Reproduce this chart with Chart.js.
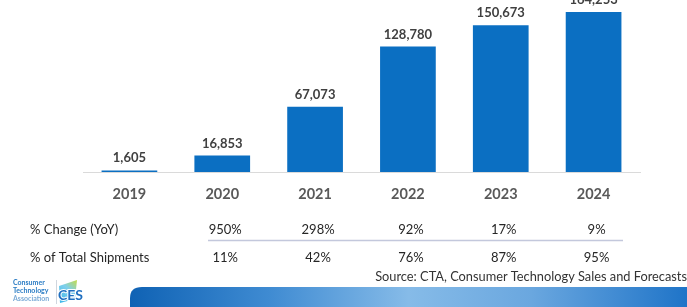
<!DOCTYPE html>
<html>
<head>
<meta charset="utf-8">
<script src="https://cdn.jsdelivr.net/npm/chart.js@4.4.1/dist/chart.umd.min.js"></script>
<style>
  html, body { margin: 0; padding: 0; background: #ffffff; }
  #wrap { width: 687px; height: 307px; position: relative; }
</style>
</head>
<body>
<div id="wrap"><canvas id="shipmentsChart" width="687" height="307"></canvas></div>
<script>
// Shipments by year (units, thousands)
const years = ["2019", "2020", "2021", "2022", "2023", "2024"];
const shipments = [1605, 16853, 67073, 128780, 150673, 164253];
// Table rows under the chart, one value per year from 2020
const yoyChange = [null, 950, 298, 92, 17, 9];
const shareOfTotal = [null, 11, 42, 76, 87, 95];

const FONT = "Lato, 'Open Sans', sans-serif";
const BAR_BLUE = "#0b6fc2";

const fmt = (v) => v.toLocaleString("en-US");

// Value labels above each bar
const barLabels = {
  id: "barLabels",
  afterDatasetsDraw(chart) {
    const { ctx } = chart;
    const meta = chart.getDatasetMeta(0);
    ctx.save();
    ctx.font = "bold 13px " + FONT;
    ctx.fillStyle = "#404040";
    ctx.textAlign = "center";
    ctx.textBaseline = "alphabetic";
    meta.data.forEach((bar, i) => {
      ctx.fillText(fmt(shipments[i]), bar.x, bar.y - 8);
    });
    ctx.restore();
  },
};

// Table rows, source line and footer band
const tableAndFooter = {
  id: "tableAndFooter",
  afterDraw(chart) {
    const { ctx } = chart;
    const x = chart.scales.x;

    ctx.save();
    ctx.font = "13px " + FONT;
    ctx.fillStyle = "#262626";
    ctx.textBaseline = "middle";

    ctx.textAlign = "left";
    ctx.fillText("% Change (YoY)", 30, 230);
    ctx.fillText("% of Total Shipments", 30, 258);

    ctx.textAlign = "center";
    years.forEach((y, i) => {
      if (yoyChange[i] == null) return;
      const px = x.getPixelForValue(i) + 3;
      ctx.fillText(yoyChange[i] + "%", px, 230);
      ctx.fillText(shareOfTotal[i] + "%", px, 258);
    });

    // divider under the YoY row
    ctx.strokeStyle = "#c3c8dc";
    ctx.lineWidth = 1.5;
    ctx.beginPath();
    ctx.moveTo(208, 240.5);
    ctx.lineTo(623, 240.5);
    ctx.stroke();

    // source
    ctx.textAlign = "right";
    ctx.fillStyle = "#333333";
    ctx.font = "12.8px " + FONT;
    ctx.fillText("Source: CTA, Consumer Technology Sales and Forecasts", 687, 277);

    // blue band
    const g = ctx.createLinearGradient(130, 0, 687, 0);
    g.addColorStop(0, "#0f62b4");
    g.addColorStop(0.25, "#3f8bd2");
    g.addColorStop(0.5, "#86bbe8");
    g.addColorStop(0.72, "#6aa7df");
    g.addColorStop(1, "#1f74c8");
    ctx.fillStyle = g;
    ctx.beginPath();
    ctx.moveTo(130, 307);
    ctx.lineTo(130, 298);
    ctx.quadraticCurveTo(130, 287, 142, 287);
    ctx.lineTo(687, 287);
    ctx.lineTo(687, 307);
    ctx.closePath();
    ctx.fill();

    // CTA logo text
    ctx.textAlign = "left";
    ctx.textBaseline = "alphabetic";
    ctx.font = "bold 7px " + FONT;
    ctx.fillStyle = "#2a7cc4";
    ctx.fillText("Consumer", 13, 285);
    ctx.fillText("Technology", 13, 293);
    ctx.fillStyle = "#7aaad6";
    ctx.fillText("Association", 13, 301);

    ctx.strokeStyle = "#d0d6de";
    ctx.lineWidth = 1;
    ctx.beginPath();
    ctx.moveTo(56.5, 280);
    ctx.lineTo(56.5, 304);
    ctx.stroke();

    // CES badge
    const bg = ctx.createLinearGradient(60, 302, 78, 280);
    bg.addColorStop(0, "#3fb8ea");
    bg.addColorStop(0.55, "#7fd0ec");
    bg.addColorStop(1, "#c9dc3c");
    ctx.fillStyle = bg;
    ctx.beginPath();
    ctx.moveTo(59, 286);
    ctx.lineTo(77, 280);
    ctx.lineTo(75, 299);
    ctx.lineTo(60, 303);
    ctx.closePath();
    ctx.fill();
    ctx.font = "bold 14px " + FONT;
    ctx.fillStyle = "#1f6fc0";
    ctx.strokeStyle = "#ffffff";
    ctx.lineWidth = 2;
    ctx.strokeText("CES", 58, 300);
    ctx.fillText("CES", 58, 300);

    ctx.restore();
  },
};

new Chart(document.getElementById("shipmentsChart"), {
  type: "bar",
  data: {
    labels: years,
    datasets: [
      {
        data: shipments,
        backgroundColor: BAR_BLUE,
        borderWidth: 0,
        categoryPercentage: 1,
        barPercentage: 0.6,
      },
    ],
  },
  options: {
    responsive: false,
    animation: false,
    layout: { padding: { left: 83, right: 47, top: 0, bottom: 0 } },
    plugins: {
      legend: { display: false },
      tooltip: { enabled: false },
    },
    scales: {
      x: {
        grid: { display: false, drawTicks: false },
        border: { display: true, color: "#dadada", width: 1 },
        ticks: {
          color: "#595959",
          padding: 14,
          font: { family: FONT, size: 14.5, weight: "bold" },
        },
        afterFit(scale) {
          scale.height = 135;
        },
      },
      y: {
        display: false,
        min: 0,
        max: 176500,
      },
    },
  },
  plugins: [barLabels, tableAndFooter],
});
</script>
</body>
</html>
